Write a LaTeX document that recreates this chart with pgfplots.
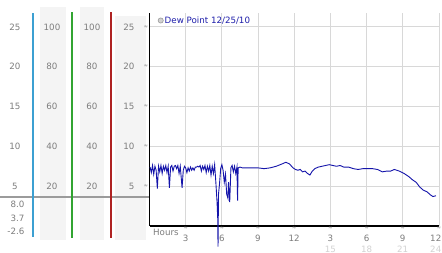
\documentclass[border=0pt]{standalone}
\usepackage{fontspec}
\setmainfont{DejaVu Sans}
\usepackage{pgfplots}
\pgfplotsset{compat=1.18}
\definecolor{numgray}{RGB}{125,125,125}
\definecolor{lightnum}{RGB}{210,210,210}
\definecolor{colbg}{RGB}{244,244,244}
\definecolor{gridgray}{RGB}{216,216,216}
\definecolor{blueline}{RGB}{60,160,210}
\definecolor{greenline}{RGB}{50,165,50}
\definecolor{redline}{RGB}{175,35,35}
\definecolor{sepgray}{RGB}{155,155,155}
\definecolor{dataline}{RGB}{20,20,170}
\definecolor{titleblue}{RGB}{30,30,170}
\newcommand{\lbl}{\fontsize{8.7}{10}\selectfont}
\newcommand{\mk}{\fontsize{5}{5}\selectfont}
\begin{document}
\begin{tikzpicture}[x=1pt,y=1pt]
\fill[white] (0,0) rectangle (442,253);
% left panel columns
\fill[colbg] (40,13) rectangle (66,246);
\fill[colbg] (80,13) rectangle (104,246);
\fill[colbg] (115,13) rectangle (146,237);
\draw[sepgray, line width=2pt] (0,56) -- (149,56);
\draw[blueline, line width=1.2pt] (33,16) -- (33,240);
\draw[greenline, line width=1.2pt] (72,15) -- (72,241);
\draw[redline, line width=1.2pt] (111,15) -- (111,241);
% left panel labels
\foreach \v/\py in {25/27,20/66,15/106,10/146,5/186}{
  \node[font=\lbl, text=numgray] at (15,253-\py) {\v};
  \node[font=\lbl, text=numgray, anchor=east] at (138,253-\py) {\v};
  \node[font=\mk, text=numgray] at (146,253-\py) {≈};
}
\foreach \v/\py in {100/27,80/66,60/106,40/146,20/186}{
  \node[font=\lbl, text=numgray] at (52,253-\py) {\v};
  \node[font=\lbl, text=numgray] at (92,253-\py) {\v};
}
\node[font=\lbl, text=numgray, anchor=east] at (28,49) {8.0};
\node[font=\lbl, text=numgray, anchor=east] at (28,35) {3.7};
\node[font=\lbl, text=numgray, anchor=east] at (28,22) {-2.6};
% main axis
\begin{axis}[at={(149.5pt,27pt)}, anchor=south west, scale only axis,
  width=289.5pt, height=213pt,
  xmin=0, xmax=24, ymin=0, ymax=26.75,
  axis x line=bottom, axis y line=left,
  axis line style={black, line width=1.4pt, -},
  xtick={3,6,9,12,15,18,21,24}, ytick={5,10,15,20,25},
  xticklabels={}, yticklabels={},
  major tick length=0pt,
  grid=major, grid style={gridgray, line width=0.9pt},
  clip=false]
\addplot[dataline, line width=0.9pt] coordinates {
(0.05,7.4)(0.15,6.7)(0.25,7.6)(0.35,6.5)(0.45,7.5)(0.55,7.0)(0.65,4.7)(0.75,7.5)
(0.85,6.8)(0.95,7.6)(1.05,6.6)(1.15,7.5)(1.25,7.0)(1.35,7.6)(1.45,6.7)(1.55,7.5)
(1.65,4.8)(1.75,7.4)(1.85,7.6)(1.95,6.9)(2.05,7.5)(2.15,7.6)(2.25,7.2)(2.35,7.6)
(2.45,6.6)(2.55,7.5)(2.7,4.8)(2.8,7.0)(2.9,7.5)(3.0,7.3)(3.1,6.7)(3.2,7.3)
(3.3,6.9)(3.4,7.4)(3.5,7.0)(3.6,7.3)(3.7,7.0)(3.8,7.4)(3.9,7.4)(4.0,7.5)
(4.1,7.4)(4.2,7.6)(4.3,6.9)(4.4,7.5)(4.5,7.1)(4.6,7.6)(4.7,6.7)(4.8,7.5)
(4.9,6.9)(5.0,7.6)(5.1,6.4)(5.2,7.5)(5.3,6.6)(5.4,7.7)(5.5,5.5)(5.6,3.0)
(5.66,0.8)(5.68,-2.6)(5.72,4.0)(5.8,5.2)(5.9,7.2)(6.0,7.7)(6.1,7.0)(6.2,5.5)
(6.3,6.5)(6.4,4.0)(6.5,3.5)(6.55,5.5)(6.65,3.0)(6.75,7.3)(6.85,7.6)(6.95,6.8)
(7.05,7.5)(7.15,6.6)(7.25,7.4)(7.3,3.2)(7.35,7.3)(7.5,7.4)(7.7,7.3)
(8.0,7.3)(9.0,7.3)(9.5,7.2)(10.0,7.3)(10.5,7.5)(11.0,7.8)(11.3,8.0)(11.6,7.8)
(11.9,7.3)(12.1,7.1)(12.3,7.0)(12.5,7.1)(12.7,6.8)(12.9,6.9)(13.1,6.6)(13.3,6.4)
(13.5,6.9)(13.7,7.2)(14.0,7.4)(14.3,7.5)(14.6,7.6)(14.9,7.7)(15.2,7.6)(15.5,7.5)
(15.8,7.6)(16.1,7.4)(16.5,7.4)(16.9,7.2)(17.3,7.1)(17.7,7.2)(18.1,7.2)(18.5,7.2)
(18.9,7.1)(19.3,6.8)(19.7,6.9)(20.0,6.9)(20.3,7.1)(20.7,6.9)(21.1,6.6)(21.5,6.2)
(21.8,5.8)(22.1,5.5)(22.4,4.9)(22.7,4.5)(23.0,4.3)(23.3,3.9)(23.5,3.7)(23.75,3.8)
};
\end{axis}
% title
\filldraw[fill=lightnum, draw=sepgray, line width=0.6pt] (160.7,232.5) circle (2.6);
\node[font=\lbl, text=titleblue, anchor=west, inner sep=0pt] at (164.5,232.5) {Dew Point 12/25/10};
% x labels
\node[font=\lbl, text=numgray, anchor=west, inner sep=0pt] at (153,21) {Hours};
\foreach \px/\a/\b in {185.7/3/,221.9/6/,258/9/,294.2/12/,330.4/3/15,366.6/6/18,402.7/9/21}{
  \node[font=\mk, text=numgray] at (\px,24.5) {≈};
  \node[font=\lbl, text=numgray] at (\px,15) {\a};
  \node[font=\lbl, text=lightnum] at (\px,4) {\b};
}
\node[font=\mk, text=numgray] at (439,24.5) {≈};
\node[font=\lbl, text=numgray, anchor=east, inner sep=0.5pt] at (442,15) {12};
\node[font=\lbl, text=lightnum, anchor=east, inner sep=0.5pt] at (442,4) {24};
\pgfresetboundingbox
\useasboundingbox (0,0) rectangle (442,253);
\end{tikzpicture}
\end{document}
